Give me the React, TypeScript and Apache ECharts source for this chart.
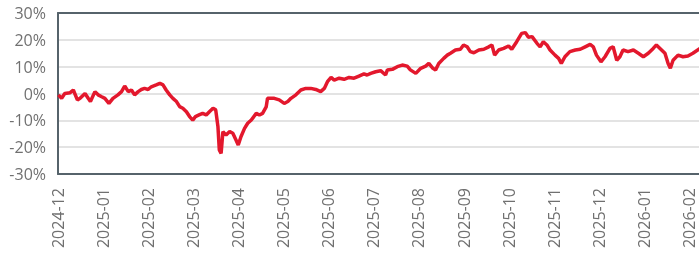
import React, { useEffect, useRef } from "react";
import * as echarts from "echarts";

const monthLabels = [
  "2024-12", "2025-01", "2025-02", "2025-03", "2025-04", "2025-05", "2025-06", "2025-07",
  "2025-08", "2025-09", "2025-10", "2025-11", "2025-12", "2026-01", "2026-02",
];

// position along the time axis, in months from 2024-12
const positions = [
  0.01, 0.08, 0.15, 0.27, 0.34, 0.43, 0.49, 0.6, 0.67, 0.72, 0.82, 0.89, 0.97, 1.04, 1.13, 1.22,
  1.33, 1.41, 1.48, 1.56, 1.63, 1.7, 1.78, 1.85, 1.92, 2.0, 2.07, 2.18, 2.26, 2.33, 2.4, 2.48,
  2.55, 2.63, 2.7, 2.77, 2.85, 2.92, 2.99, 3.05, 3.13, 3.21, 3.29, 3.36, 3.44, 3.5, 3.55, 3.58,
  3.62, 3.66, 3.73, 3.81, 3.88, 3.95, 4.0, 4.06, 4.14, 4.21, 4.29, 4.4, 4.47, 4.54, 4.62, 4.65,
  4.8, 4.91, 5.02, 5.1, 5.17, 5.28, 5.39, 5.5, 5.61, 5.72, 5.83, 5.91, 5.98, 6.06, 6.13, 6.24,
  6.35, 6.46, 6.57, 6.68, 6.79, 6.86, 6.94, 7.05, 7.16, 7.27, 7.31, 7.42, 7.53, 7.64, 7.75, 7.82,
  7.94, 8.05, 8.16, 8.23, 8.32, 8.38, 8.45, 8.56, 8.64, 8.71, 8.82, 8.93, 9.0, 9.08, 9.15, 9.23,
  9.34, 9.45, 9.56, 9.63, 9.69, 9.78, 9.89, 10.0, 10.07, 10.18, 10.29, 10.37, 10.44, 10.52, 10.63,
  10.7, 10.77, 10.85, 10.92, 11.03, 11.11, 11.17, 11.25, 11.36, 11.48, 11.59, 11.7, 11.81, 11.88,
  11.95, 12.05, 12.14, 12.25, 12.32, 12.4, 12.47, 12.54, 12.65, 12.77, 12.88, 12.99, 13.1, 13.21,
  13.28, 13.36, 13.47, 13.54, 13.59, 13.65, 13.76, 13.87, 13.98, 14.09, 14.25,
];

// cumulative return, %
const returns = [
  -0.5, -1.8, 0, 0.3, 1.3, -2.4, -1.8, 0, -1.8, -3, 0.7, -0.5, -1.2, -1.8, -3.7, -1.8,
  -0.5, 0.7, 2.8, 0.7, 1.3, -0.5, 0.7, 1.5, 1.9, 1.5, 2.5, 3.2, 3.8, 3.2, 1.3, -0.5,
  -1.8, -3, -4.9, -5.5, -6.8, -8.6, -9.9, -8.6, -8, -7.4, -8, -6.8, -5.5, -6.1, -12.4, -21,
  -22.3, -14.2, -15.5, -14.2, -14.8, -17.3, -19.2, -16.1, -13, -11.1, -9.9, -7.4, -8, -7.4, -5, -1.8,
  -1.8, -2.4, -3.7, -3, -1.8, -0.5, 1.3, 1.9, 1.9, 1.5, 0.7, 1.9, 4.4, 6, 5, 5.7,
  5.3, 6, 5.7, 6.5, 7.3, 6.9, 7.5, 8.1, 8.5, 6.9, 8.8, 9, 10, 10.6, 10.2, 8.8,
  7.5, 9.4, 10.2, 11.2, 9.4, 8.8, 11.2, 13.1, 14.3, 15, 16.2, 16.5, 18.1, 17.4, 15.6, 15.2,
  16.2, 16.5, 17.4, 18.1, 14.3, 16.2, 16.8, 17.7, 16.5, 19.3, 22.4, 22.7, 21, 21.2, 18.7,
  17.4, 19.3, 18.1, 16.2, 14.3, 13.1, 11.2, 13.7, 15.6, 16.2, 16.5, 17.4, 18.3, 17.4,
  14.3, 11.8, 13.7, 16.8, 17.4, 12.4, 13.7, 16.2, 15.6, 16.2, 15, 13.7, 15, 16.8,
  18.1, 16.8, 15, 11.2, 9.4, 12.4, 14.3, 13.7, 14, 15, 16.8,
];

const yTicks = [-30, -20, -10, 0, 10, 20, 30];

const BORDER = "#56636b";
const TEXT = "#707070";

export default function App() {
  const ref = useRef<HTMLDivElement>(null);
  useEffect(() => {
    if (!ref.current) return;
    const chart = echarts.init(ref.current, undefined, { renderer: "svg" });
    const data = positions.map((p, i) => [p, returns[i]]);
    const xMax = 14.27;
    chart.setOption({
      animation: false,
      grid: {
        left: 58,
        top: 13,
        bottom: 88,
        right: -2,
        show: false,
        outerBoundsMode: "none",
      },
      xAxis: [
        {
          type: "value",
          position: "bottom",
          min: 0,
          max: xMax,
          interval: 1,
          axisLine: { show: true, onZero: false, lineStyle: { color: BORDER, width: 2 } },
          axisTick: { show: false },
          splitLine: { show: false },
          axisLabel: {
            rotate: 90,
            margin: 14,
            color: TEXT,
            fontSize: 16,
            fontFamily: "Open Sans",
            showMaxLabel: false,
            formatter: (v: number) =>
              Number.isInteger(v) && monthLabels[v] !== undefined ? monthLabels[v] : "",
          },
        },
        {
          type: "value",
          position: "top",
          min: 0,
          max: xMax,
          interval: 1,
          axisLine: { show: true, onZero: false, lineStyle: { color: BORDER, width: 2 } },
          axisTick: { show: false },
          splitLine: { show: false },
          axisLabel: { show: false },
        },
      ],
      yAxis: {
        type: "value",
        min: yTicks[0],
        max: yTicks[yTicks.length - 1],
        interval: 10,
        axisLine: { show: true, onZero: false, lineStyle: { color: BORDER, width: 2 } },
        axisTick: { show: false },
        splitLine: { show: true, lineStyle: { color: "#dadada", width: 1.5 } },
        axisLabel: {
          margin: 12,
          color: TEXT,
          fontSize: 16,
          fontFamily: "Open Sans",
          formatter: (v: number) => `${v}%`,
        },
      },
      series: [
        {
          type: "line",
          xAxisIndex: 0,
          data,
          showSymbol: false,
          lineStyle: { color: "#e3182d", width: 3.5 },
        },
      ],
    });
    return () => chart.dispose();
  }, []);
  return (
    <div
      ref={ref}
      style={{ position: "fixed", left: 0, top: 0, width: 699, height: 262 }}
    />
  );
}
